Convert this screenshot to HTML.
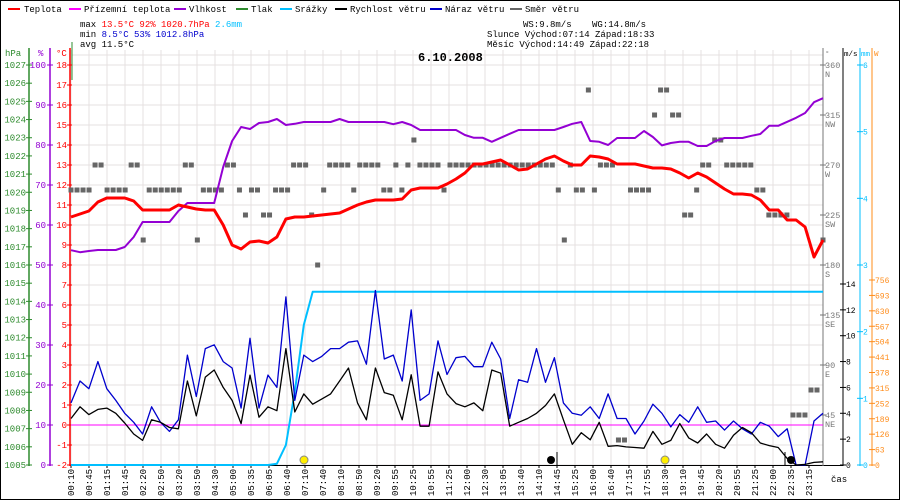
<!DOCTYPE html>
<html><head><meta charset="utf-8">
<style>
html,body{margin:0;padding:0;background:#fff;}
svg{display:block;font-family:"Liberation Mono",monospace;}
</style></head>
<body>
<svg id="chart" width="900" height="500" viewBox="0 0 900 500" xmlns="http://www.w3.org/2000/svg">
<rect x="0.5" y="0.5" width="899" height="499" fill="#fff" stroke="#000"/>
<g id="legend" font-size="9" fill="#000">
 <g><rect x="8" y="8" width="12" height="2" fill="#ff0000"/><text x="24" y="12">Teplota</text></g>
 <g><rect x="69" y="8" width="12" height="2" fill="#ff00ff"/><text x="84" y="12">Přízemní teplota</text></g>
 <g><rect x="174" y="8" width="12" height="2" fill="#9400d3"/><text x="189" y="12">Vlhkost</text></g>
 <g><rect x="236" y="8" width="12" height="2" fill="#2e8b2e"/><text x="251" y="12">Tlak</text></g>
 <g><rect x="280" y="8" width="12" height="2" fill="#00bfff"/><text x="295" y="12">Srážky</text></g>
 <g><rect x="335" y="8" width="12" height="2" fill="#000"/><text x="350" y="12">Rychlost větru</text></g>
 <g><rect x="430" y="8" width="12" height="2" fill="#0000cd"/><text x="445" y="12">Náraz větru</text></g>
 <g><rect x="510" y="8" width="12" height="2" fill="#666"/><text x="525" y="12">Směr větru</text></g>
</g>
<g font-size="9">
 <text x="80" y="27">max <tspan fill="#ff0000">13.5°C  92%  1020.7hPa</tspan>  <tspan fill="#00bfff">2.6mm</tspan></text>
 <text x="80" y="37">min  <tspan fill="#0000cd">8.5°C  53%  1012.8hPa</tspan></text>
 <text x="80" y="47">avg 11.5°C</text>
</g>
<g font-size="9">
 <text x="523" y="27">WS:9.8m/s</text><text x="592" y="27">WG:14.8m/s</text>
 <text x="487" y="37">Slunce Východ:07:14  Západ:18:33</text>
 <text x="487" y="47">Měsíc  Východ:14:49  Západ:22:18</text>
</g>
<g id="grid"></g>
<text x="418" y="61" font-size="12" font-weight="bold" font-family="Liberation Mono, monospace">6.10.2008</text>
<g id="axes"></g>
<g id="series"></g>
</svg>
<script>
// ---- data ----
const timeLabels = ["00:10","00:45","01:15","01:45","02:20","02:50","03:20","03:50","04:30","05:00","05:35","06:05","06:40","07:10","07:40","08:10","08:50","09:20","09:55","10:25","10:55","11:25","12:00","12:30","13:05","13:40","14:10","14:45","15:25","16:00","16:40","17:15","17:55","18:30","19:10","19:45","20:20","20:55","21:25","22:00","22:35","23:15"];
const temperature = [10.4,10.55,10.7,11.15,11.35,11.35,11.35,11.2,10.75,10.75,10.75,10.75,11.0,10.9,10.8,10.75,10.75,10.0,9.0,8.8,9.15,9.2,9.1,9.4,10.3,10.4,10.4,10.45,10.5,10.55,10.6,10.8,11.0,11.15,11.25,11.25,11.25,11.3,11.75,11.85,11.85,11.85,12.05,12.3,12.6,13.05,13.05,13.15,13.25,13.0,12.75,12.8,13.05,13.3,13.45,13.2,13.0,13.0,13.45,13.4,13.3,13.05,13.05,13.05,12.95,12.85,12.85,12.8,12.6,12.35,12.6,12.4,12.1,11.8,11.55,11.55,11.5,11.25,10.75,10.75,10.25,10.25,9.9,8.4,9.25];
const humidity = [53.7,53.2,53.5,53.75,53.75,53.75,54.5,57,60.75,60.75,60.75,60.75,63.5,65.5,65.5,65.5,65.5,74.5,81,84.5,84,85.5,85.75,86.5,85,85.3,85.75,85.75,85.75,85.75,86.5,85.75,85.75,85.75,85.75,85.75,85.2,85.75,85.0,83.75,83.75,83.75,83.75,83.75,82.5,81.8,81.8,80.8,81.8,82.8,83.75,83.75,83.75,83.75,83.75,84.5,85.3,85.75,81,80.8,80,81.75,81.75,81.75,83.5,82,79.9,80.5,80.8,80.8,79.75,79.75,81,81.75,81.75,81.75,82.3,82.75,84.8,84.8,85.8,86.8,88,90.7,91.7];
const windSpeed = [3.6,4.5,3.9,4.3,4.4,4.0,3.25,2.4,1.9,3.5,3.3,2.9,2.8,6.5,3.8,6.8,7.35,6.0,5.0,3.2,6.95,3.7,4.5,4.2,9.0,4.1,5.5,4.7,5.1,5.5,6.5,7.5,4.8,3.5,7.5,5.6,5.4,3.5,6.98,3.0,3.0,7.2,5.5,4.75,4.5,4.8,4.2,7.35,7.1,3.0,3.3,3.6,4.0,4.6,5.5,3.5,1.6,2.5,1.95,3.3,1.45,1.5,1.4,1.35,1.3,2.6,1.6,1.9,3.2,2.1,1.7,2.4,1.6,1.3,2.3,2.9,2.5,1.7,1.5,1.35,0.5,0.0,0.05,0.2,0.25];
const windGust = [4.8,6.5,5.9,8.0,5.9,5.0,4.0,3.3,2.4,4.5,3.3,2.6,3.5,8.5,5.3,9.0,9.3,8.0,7.5,4.4,9.8,4.4,6.95,6.0,13.0,5.0,8.5,8.0,8.4,9.0,9.0,9.5,9.6,7.8,13.5,8.2,8.5,6.5,12.0,5.0,5.5,9.6,7.0,8.3,8.4,7.6,7.6,9.5,8.2,3.6,6.6,6.4,9.0,6.4,8.3,4.8,4.0,3.85,4.5,3.6,5.5,3.6,3.6,2.4,3.4,4.7,4.0,2.95,3.9,3.3,4.5,3.3,3.4,2.7,3.4,2.8,2.4,3.3,3.0,2.2,2.8,0,0,3.4,4.0];
const precip = [0,0,0,0,0,0,0,0,0,0,0,0,0,0,0,0,0,0,0,0,0,0,0,0.02,0.3,1.1,2.1,2.6,2.6,2.6,2.6,2.6,2.6,2.6,2.6,2.6,2.6,2.6,2.6,2.6,2.6,2.6,2.6,2.6,2.6,2.6,2.6,2.6,2.6,2.6,2.6,2.6,2.6,2.6,2.6,2.6,2.6,2.6,2.6,2.6,2.6,2.6,2.6,2.6,2.6,2.6,2.6,2.6,2.6,2.6,2.6,2.6,2.6,2.6,2.6,2.6,2.6,2.6,2.6,2.6,2.6,2.6,2.6,2.6,2.6];
const groundTemp = 0;
const windDir = [247.5,247.5,247.5,247.5,270,270,247.5,247.5,247.5,247.5,270,270,202.5,247.5,247.5,247.5,247.5,247.5,247.5,270,270,202.5,247.5,247.5,247.5,247.5,270,270,247.5,225,247.5,247.5,225,225,247.5,247.5,247.5,270,270,270,225,180,247.5,270,270,270,270,247.5,270,270,270,270,247.5,247.5,270,247.5,270,292.5,270,270,270,270,247.5,270,270,270,270,270,270,270,270,270,270,270,270,270,270,270,270,270,270,247.5,202.5,270,247.5,247.5,337.5,247.5,270,270,270,22.5,22.5,247.5,247.5,247.5,247.5,315,337.5,337.5,315,315,225,225,247.5,270,270,292.5,292.5,270,270,270,270,270,247.5,247.5,225,225,225,225,45,45,45,67.5,67.5,202.5];
const tempTicks = [-2,-1,0,1,2,3,4,5,6,7,8,9,10,11,12,13,14,15,16,17,18];
const humTicks = [0,10,20,30,40,50,60,70,80,90,100];
const presTicks = [1005,1006,1007,1008,1009,1010,1011,1012,1013,1014,1015,1016,1017,1018,1019,1020,1021,1022,1023,1024,1025,1026,1027];
const dirTicks = [45,90,135,180,225,270,315,360];
const dirNames = ["NE","E","SE","S","SW","W","NW","N"];
const windTicks = [0,2,4,6,8,10,12,14];
const mmTicks = [0,1,2,3,4,5,6];
const wTicks = [0,63,126,189,252,315,378,441,504,567,630,693,756];

// ---- scales ----
const X0 = 71, X1 = 823;
const xSample = i => X0 + i * (X1 - X0) / (temperature.length - 1);
const xDir = i => X0 + i * (X1 - X0) / (windDir.length - 1);
const xLabel = i => X0 + i * 18;
const yT = v => 425 - 20 * v;
const yH = v => 465 - 4 * v;
const yP = v => 465 - (v - 1005) * (400 / 22);
const yW = v => 465 - v * (181 / 14);
const yMM = v => 465 - v * (400 / 6);
const yDeg = v => 465 - v * (400 / 360);
const yWatt = v => 465 - v * (185 / 756);

const NS = "http://www.w3.org/2000/svg";
function mk(tag, parent, attrs) {
  const e = document.createElementNS(NS, tag);
  for (const k in attrs) e.setAttribute(k, attrs[k]);
  parent.appendChild(e);
  return e;
}
const grid = document.getElementById('grid');
const axes = document.getElementById('axes');
const series = document.getElementById('series');

for (let t = -2; t <= 18; t++) {
  const l = mk('line', grid, {x1: X0, x2: X1, y1: yT(t), y2: yT(t), stroke: '#e6e1e1', 'stroke-width': 1});
  
  
}
mk('line', grid, {x1: X0, x2: X1, y1: 55, y2: 55, stroke: '#e6e1e1'});
timeLabels.forEach((lab, i) => {
  const x = xLabel(i);
  const l = mk('line', grid, {x1: x, x2: x, y1: 50, y2: 465, stroke: '#e6e1e1', 'stroke-width': 1});
  
  
  const t = mk('text', axes, {x: 0, y: 0, 'font-size': 9, transform: `translate(${x + 3},496) rotate(-90)`});
  t.textContent = lab;
  
  
  mk('line', axes, {x1: x, x2: x, y1: 465, y2: 468, stroke: '#000'});
});
mk('line', axes, {x1: 71, x2: 843, y1: 465.5, y2: 465.5, stroke: '#000'});
const cas = mk('text', axes, {x: 831, y: 482, 'font-size': 9});
cas.textContent = 'čas';



function vAxis(x, color, y1, y2, name, w) {
  const l = mk('line', axes, {x1: x, x2: x, y1: y1, y2: y2, stroke: color, 'stroke-width': w || 1.5});
  
  
}
vAxis(29, '#2e8b2e', 48, 466, 'pressure-axis');
vAxis(50, '#9400d3', 48, 466, 'humidity-axis');
vAxis(70, '#ff0000', 48, 466, 'temperature-axis');
mk('line', axes, {x1: 72, x2: 72, y1: 42, y2: 80, stroke: '#2e8b2e', 'stroke-width': 1});
presTicks.forEach(v => {
  const y = yP(v);
  mk('line', axes, {x1: 26, x2: 32, y1: y, y2: y, stroke: '#2e8b2e'});
  const t = mk('text', axes, {x: 26, y: y + 3, 'font-size': 9, fill: '#2e8b2e', 'text-anchor': 'end'});
  t.textContent = v;
  
  
});
humTicks.forEach(v => {
  const y = yH(v);
  mk('line', axes, {x1: 47, x2: 53, y1: y, y2: y, stroke: '#9400d3'});
  const t = mk('text', axes, {x: 46, y: y + 3, 'font-size': 9, fill: '#9400d3', 'text-anchor': 'end'});
  t.textContent = v;
  
  
});
tempTicks.forEach(v => {
  const y = yT(v);
  mk('line', axes, {x1: 67, x2: 72, y1: y, y2: y, stroke: '#ff0000'});
  const t = mk('text', axes, {x: 67, y: y + 3, 'font-size': 9, fill: '#ff0000', 'text-anchor': 'end'});
  t.textContent = v;
  
  
});
[['hPa', 5, '#2e8b2e'], ['%', 38, '#9400d3'], ['°C', 56, '#ff0000']].forEach(([s, x, c]) => {
  const t = mk('text', axes, {x: x, y: 56, 'font-size': 9, fill: c});
  t.textContent = s;
  
  
});

vAxis(823, '#777', 48, 466, 'direction-axis', 1);
vAxis(843, '#000', 48, 466, 'wind-speed-axis', 1);
vAxis(860, '#00bfff', 48, 466, 'precip-axis', 1);
vAxis(872, '#ff8c1a', 48, 466, 'solar-axis', 1);
dirTicks.forEach((v, i) => {
  const y = yDeg(v);
  mk('line', axes, {x1: 820, x2: 826, y1: y, y2: y, stroke: '#777'});
  const t = mk('text', axes, {x: 825, y: y + 3, 'font-size': 8.5, fill: '#777'});
  t.textContent = v;
  
  
  const n = mk('text', axes, {x: 825, y: y + 12, 'font-size': 8.5, fill: '#777'});
  n.textContent = dirNames[i];
  
  
});
windTicks.forEach(v => {
  const y = yW(v);
  mk('line', axes, {x1: 840, x2: 846, y1: y, y2: y, stroke: '#000'});
  const t = mk('text', axes, {x: 846, y: y + 3, 'font-size': 8, fill: '#000'});
  t.textContent = v;
  
  
});
mmTicks.forEach(v => {
  const y = yMM(v);
  mk('line', axes, {x1: 857, x2: 863, y1: y, y2: y, stroke: '#00bfff'});
  const t = mk('text', axes, {x: 863, y: y + 3, 'font-size': 8, fill: '#00bfff'});
  t.textContent = v;
  
  
});
wTicks.forEach(v => {
  const y = yWatt(v);
  mk('line', axes, {x1: 869, x2: 875, y1: y, y2: y, stroke: '#ff8c1a'});
  const t = mk('text', axes, {x: 875, y: y + 3, 'font-size': 8, fill: '#ff8c1a'});
  t.textContent = v;
  
  
});
[['°', 825, '#777'], ['m/s', 844, '#000'], ['mm', 861, '#00bfff'], ['W', 874, '#ff8c1a']].forEach(([s, x, c]) => {
  const t = mk('text', axes, {x: x, y: 56, 'font-size': 7.5, fill: c});
  t.textContent = s;
  
  
});

const gl = mk('line', series, {x1: X0, x2: X1, y1: yT(groundTemp), y2: yT(groundTemp), stroke: '#ff00ff', 'stroke-width': 1});



windDir.forEach((v, i) => {
  if (v === null) return;
  const r = mk('rect', series, {x: xDir(i) - 2.5, y: yDeg(v) - 2.5, width: 5, height: 5, fill: '#666'});
  
  
});

function line(arr, yf, color, w, name) {
  const pts = arr.map((v, i) => xSample(i).toFixed(1) + ',' + yf(v).toFixed(1)).join(' ');
  const p = mk('polyline', series, {points: pts, fill: 'none', stroke: color, 'stroke-width': w, 'stroke-linejoin': 'round'});
  
  
}
line(precip, yMM, '#00bfff', 2, 'precipitation-line');
line(humidity, yH, '#9400d3', 2, 'humidity-line');
line(temperature, yT, '#ff0000', 3, 'temperature-line');
line(windGust, yW, '#0000cd', 1.3, 'wind-gust-line');
line(windSpeed, yW, '#000', 1.3, 'wind-speed-line');

[[304, '#ffee00', 'sunrise-marker'], [665, '#ffee00', 'sunset-marker']].forEach(([x, c, n]) => {
  const e = mk('circle', series, {cx: x, cy: 460, r: 4, fill: c, stroke: '#888'});
  
  
});
[[551, 'moonrise-marker'], [791, 'moonset-marker']].forEach(([x, n]) => {
  const e = mk('circle', series, {cx: x, cy: 460, r: 4, fill: '#000'});
  
  
});
mk('line', series, {x1: 557, x2: 557, y1: 452, y2: 465, stroke: '#000'});
mk('line', series, {x1: 785, x2: 785, y1: 452, y2: 465, stroke: '#000'});
</script>
</body></html>
